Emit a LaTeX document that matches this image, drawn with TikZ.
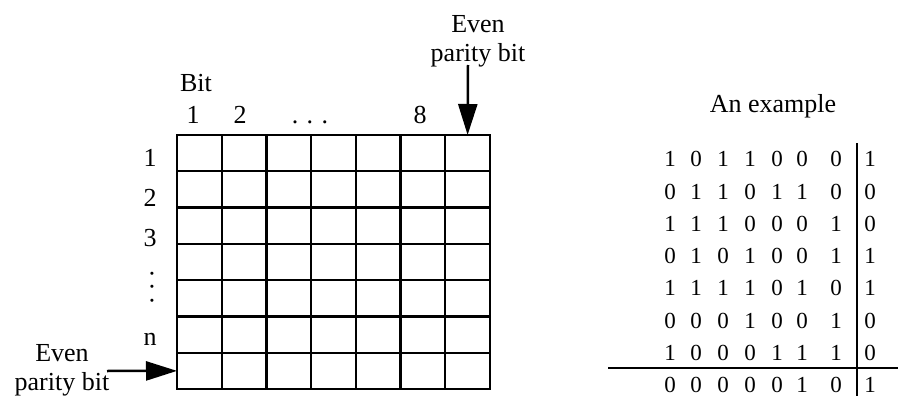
\documentclass[tikz,border=0pt]{standalone}
\usepackage{fontspec}
\setmainfont{Liberation Serif}
\usetikzlibrary{arrows.meta}
\tikzset{
    >={Triangle[length=31pt, width=19pt]},
    cell/.style={draw, line width=2.3pt, minimum width=44.71pt, minimum height=36.29pt, inner sep=0pt, outer sep=0pt},
    lbl/.style={font=\fontsize{26}{29}\selectfont, anchor=base, inner sep=0pt, align=center},
    digit/.style={font=\fontsize{23}{25}\selectfont, anchor=base, inner sep=0pt},
    arrow/.style={->, line width=2.5pt},
    rule/.style={line width=2.5pt}
}

\begin{document}
\begin{tikzpicture}[x=1pt, y=-1pt]
\useasboundingbox (0,0) rectangle (898,396);
% parity grid
\foreach \r in {1,...,7}
  \foreach \c in {1,...,7}
    \node[cell] (c-\r-\c) at ({177+44.71*(\c-0.5)}, {135+36.29*(\r-0.5)}) {};
\node[lbl] (bit) at (196,92) {Bit};
\node[lbl] (col1) at (193,124) {1};
\node[lbl] (col2) at (240,124) {2};
\node[lbl] (coldots) at (310,124) {.\hspace{8.5pt}.\hspace{8.5pt}.};
\node[lbl] (col8) at (420,124) {8};
\node[lbl] (row1) at (150,167) {1};
\node[lbl] (row2) at (150,206) {2};
\node[lbl] (row3) at (150,246) {3};
\node[lbl, anchor=center, rotate=-90] (rowdots) at (152,287) {.\hspace{7pt}.\hspace{7pt}.};
\node[lbl] (rown) at (150,345) {n};
% parity bits
\node[lbl] (partop) at (478,62) {Even\\parity bit};
\node[lbl] (parleft) at (62,390) {Even\\parity bit};
\coordinate (ptop) at (468,65);
\coordinate (pleft) at (107,371);
\draw[arrow] (ptop) -- (c-1-7.north);
\draw[arrow] (pleft) -- (c-7-1.west);
% example
\node[lbl] (extitle) at (773,113) {An example};
\foreach \bits [count=\r] in {{1,0,1,1,0,0,0,1},{0,1,1,0,1,1,0,0},{1,1,1,0,0,0,1,0},{0,1,0,1,0,0,1,1},{1,1,1,1,0,1,0,1},{0,0,0,1,0,0,1,0},{1,0,0,0,1,1,1,0},{0,0,0,0,0,1,0,1}}{
  \foreach \b [count=\c] in \bits {
    \pgfmathsetmacro{\xx}{{670,696,723,750,777,802,836,870}[\c-1]}
    \node[digit] (d-\r-\c) at (\xx, {167+32.2*(\r-1)}) {\b};
  }
}
\coordinate (vtop) at (857,143);
\coordinate (vbot) at (857,396);
\coordinate (hleft) at (608,368);
\coordinate (hright) at (898,368);
\draw[rule] (vtop) -- (vbot);
\draw[rule] (hleft) -- (hright);
\end{tikzpicture}
\end{document}
